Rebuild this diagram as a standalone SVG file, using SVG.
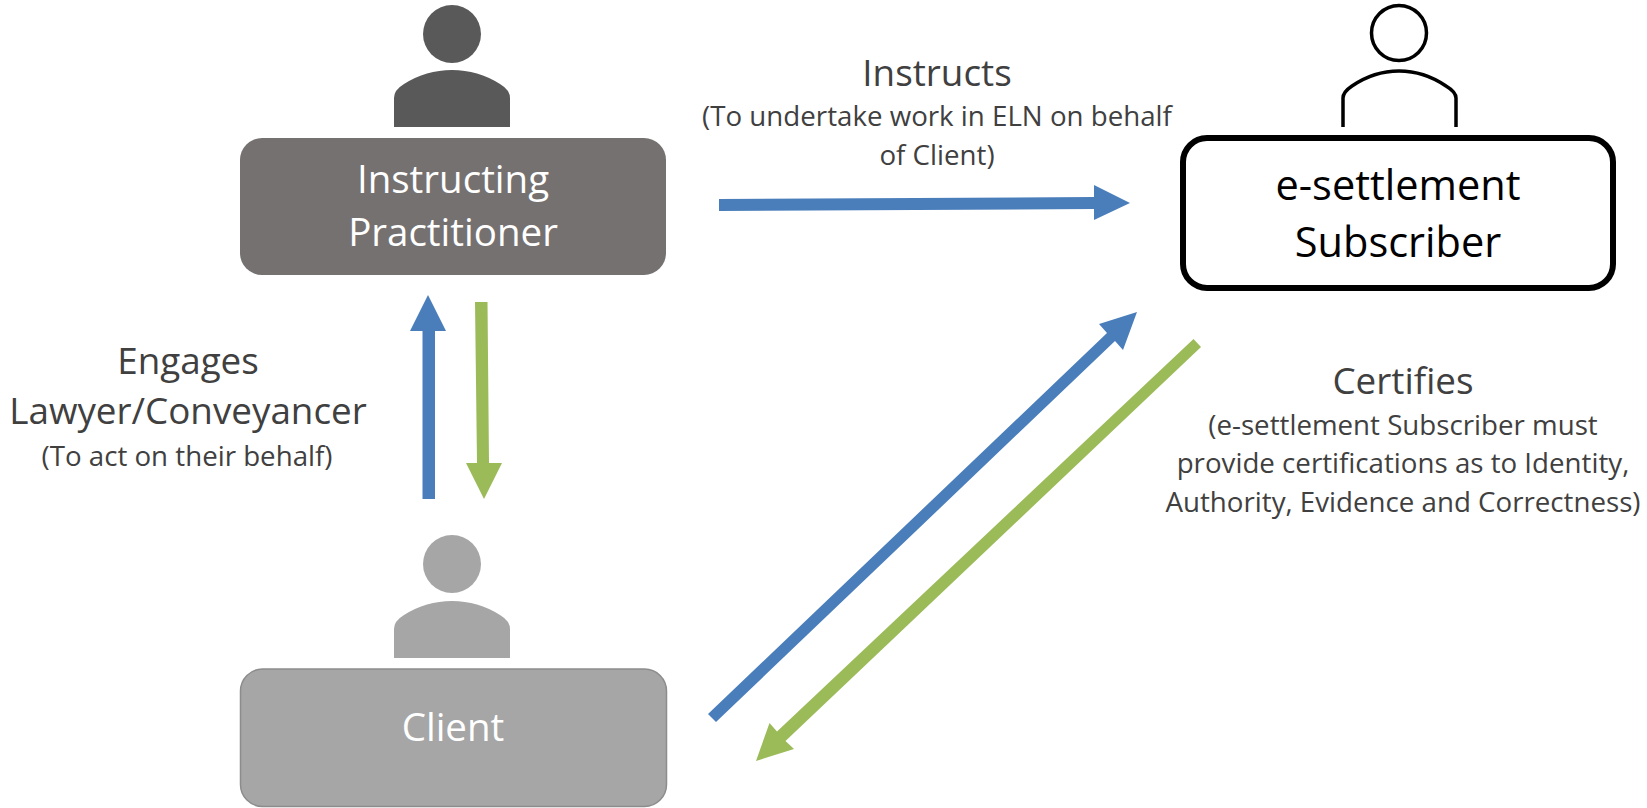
<svg xmlns="http://www.w3.org/2000/svg" width="1647" height="808" viewBox="0 0 1647 808">
<style>
text{font-family:"Open Sans","Noto Sans","Liberation Sans",sans-serif;text-anchor:middle}
.lbl{fill:#404040}
.big{font-size:36.800px}
.sm{font-size:27.700px}
.w{fill:#fff;font-size:38.500px}
.b{fill:#000;font-size:41.500px}
.blue{fill:#4a7ebb}
.green{fill:#9bbb59}
</style>
<rect width="1647" height="808" fill="#fff"/>
<g id="connectors">
<polygon class="blue" points="719,199 1094,197 1094,185 1130,203 1094,220 1094,209 719,211"/>
<polygon class="blue" points="422.500,499 422.500,331 410,331 428,295 446,331 435,331 435,499"/>
<polygon class="green" points="475,302 487.500,302 489,463 502,463 484,499 466,463 477,463"/>
<polygon class="blue" points="708,714 1107,333 1099,324 1137,312 1123,350 1115,341 716,722"/>
<polygon class="green" points="1193.500,339 1201,347 785.500,741 794,749 756,761 769.500,723 777,731.500"/>
</g>
<g id="instructing-practitioner">
<circle cx="452" cy="34" r="29" fill="#595959"/>
<path d="M394 127V98Q394 90 404 84Q426 70 452 70Q478 70 500 84Q510 90 510 98V127Z" fill="#595959"/>
<rect x="240" y="138" width="426" height="137" rx="22" fill="#767171"/>
<text class="w" x="453" y="193">Instructing</text>
<text class="w" x="453" y="246">Practitioner</text>
</g>
<g id="client">
<circle cx="452" cy="564" r="29" fill="#a6a6a6"/>
<path d="M394 658V629Q394 621 404 615Q426 601 452 601Q478 601 500 615Q510 621 510 629V658Z" fill="#a6a6a6"/>
<rect x="240.500" y="669" width="426" height="137.500" rx="22" fill="#a6a6a6" stroke="#8c8c8c" stroke-width="1.500"/>
<text class="w" x="453" y="741">Client</text>
</g>
<g id="e-settlement-subscriber">
<circle cx="1399" cy="33" r="27.500" fill="none" stroke="#000" stroke-width="3.500"/>
<path d="M1343 127V98Q1343 92 1352 86Q1374 71 1399 71Q1424 71 1446 86Q1456 92 1456 98V127" fill="none" stroke="#000" stroke-width="3.500"/>
<rect x="1183" y="138" width="430" height="150" rx="24" fill="#fff" stroke="#000" stroke-width="6"/>
<text class="b" x="1398" y="200">e-settlement</text>
<text class="b" x="1398" y="257">Subscriber</text>
</g>
<g id="labels">
<text class="lbl big" x="937" y="86">Instructs</text>
<text class="lbl sm" x="937" y="126">(To undertake work in ELN on behalf</text>
<text class="lbl sm" x="937" y="165">of Client)</text>
<text class="lbl big" x="188" y="374">Engages</text>
<text class="lbl big" x="188" y="424">Lawyer/Conveyancer</text>
<text class="lbl sm" x="187" y="466">(To act on their behalf)</text>
<text class="lbl big" x="1403" y="394">Certifies</text>
<text class="lbl sm" x="1403" y="435">(e-settlement Subscriber must</text>
<text class="lbl sm" x="1403" y="473">provide certifications as to Identity,</text>
<text class="lbl sm" x="1403" y="512">Authority, Evidence and Correctness)</text>
</g>
</svg>
